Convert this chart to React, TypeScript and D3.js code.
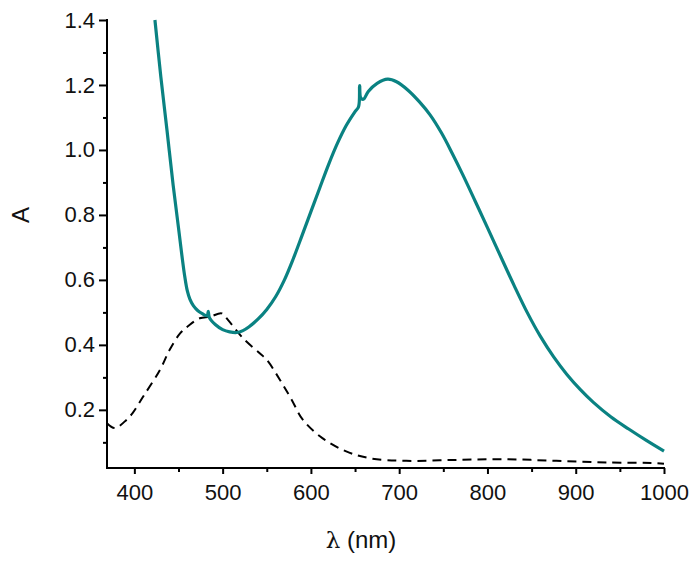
import React, { useEffect, useRef } from 'react';
import * as d3 from 'd3';

// teal sample (solid line)
const sampleWl = [423.3, 430, 437, 444, 450, 454, 457, 460, 463, 467, 472, 477, 482.5, 483.7, 485, 492, 500, 508, 516, 523, 530, 540, 550, 560, 570, 580, 590, 600, 610, 620, 630, 640, 650, 654, 655.2, 656.5, 659.5, 665, 675, 687, 697, 710, 723, 735, 748, 760, 772, 786, 800, 815, 830, 845, 860, 875, 890, 905, 920, 940, 960, 980, 1000];
const sampleA = [1.40, 1.225, 1.06, 0.89, 0.76, 0.672, 0.612, 0.566, 0.54, 0.52, 0.505, 0.496, 0.49, 0.503, 0.484, 0.462, 0.447, 0.44, 0.438, 0.444, 0.456, 0.479, 0.509, 0.548, 0.6, 0.665, 0.737, 0.81, 0.883, 0.955, 1.02, 1.075, 1.118, 1.133, 1.198, 1.16, 1.156, 1.18, 1.205, 1.218, 1.21, 1.184, 1.148, 1.108, 1.052, 0.99, 0.924, 0.843, 0.761, 0.672, 0.584, 0.5, 0.426, 0.363, 0.309, 0.263, 0.223, 0.178, 0.141, 0.106, 0.073];

// reference (dashed line)
const refWl = [369, 378, 391, 398, 410, 429, 440, 452, 461, 474, 486, 499, 506, 523, 542, 550, 565, 578, 591, 613, 640, 667, 708, 765, 822, 878, 935, 991, 1000];
const refA = [0.159, 0.144, 0.169, 0.19, 0.241, 0.323, 0.385, 0.436, 0.458, 0.482, 0.487, 0.497, 0.477, 0.421, 0.374, 0.354, 0.292, 0.232, 0.169, 0.113, 0.072, 0.051, 0.043, 0.046, 0.048, 0.043, 0.038, 0.036, 0.034];

const xMajor = [400, 500, 600, 700, 800, 900, 1000];
const xMinor = [450, 550, 650, 750, 850, 950];
const yMajor = [0.2, 0.4, 0.6, 0.8, 1.0, 1.2, 1.4];
const yMinor = [0.1, 0.3, 0.5, 0.7, 0.9, 1.1, 1.3];

const font = '"Liberation Sans", Arial, sans-serif';

export default function App() {
  const ref = useRef<SVGSVGElement>(null);

  useEffect(() => {
    const svg = d3.select(ref.current);
    svg.selectAll('*').remove();

    const x = d3.scaleLinear().domain([369, 1000]).range([107, 664]);
    const y = d3.scaleLinear().domain([0.021, 1.4]).range([468, 20]);

    const line = d3.line<[number, number]>()
      .x(d => x(d[0]))
      .y(d => y(d[1]))
      .curve(d3.curveCatmullRom.alpha(0.5));

    const refPts = refWl.map((w, i) => [w, refA[i]] as [number, number]);
    const samplePts = sampleWl.map((w, i) => [w, sampleA[i]] as [number, number]);

    svg.append('path')
      .attr('d', line(refPts))
      .attr('fill', 'none')
      .attr('stroke', '#000')
      .attr('stroke-width', 2)
      .attr('stroke-dasharray', '9,6');

    svg.append('path')
      .attr('d', line(samplePts))
      .attr('fill', 'none')
      .attr('stroke', '#0a8282')
      .attr('stroke-width', 3.2)
      .attr('stroke-linejoin', 'round');

    // x axis
    const gx = svg.append('g').attr('transform', 'translate(0,468)');
    gx.append('g').call(d3.axisBottom(x).tickValues(xMinor).tickSize(4).tickFormat(() => ''));
    gx.append('g').call(d3.axisBottom(x).tickValues(xMajor).tickSize(6).tickPadding(10).tickFormat(d3.format('d')));
    gx.selectAll('.domain').remove();
    gx.append('line').attr('x1', 106).attr('x2', 665).attr('stroke', '#000').attr('stroke-width', 2);

    // y axis
    const gy = svg.append('g').attr('transform', 'translate(107,0)');
    gy.append('g').call(d3.axisLeft(y).tickValues(yMinor).tickSize(4).tickFormat(() => ''));
    gy.append('g').call(d3.axisLeft(y).tickValues(yMajor).tickSize(8).tickPadding(4).tickFormat(d3.format('.1f')));
    gy.selectAll('.domain').remove();
    gy.append('line').attr('y1', 19).attr('y2', 469).attr('stroke', '#000').attr('stroke-width', 2);

    svg.selectAll('.tick line').attr('stroke', '#000').attr('stroke-width', 2);
    svg.selectAll('.tick text').attr('font-family', font).attr('font-size', 22).attr('fill', '#111');

    // axis titles
    const xt = svg.append('text')
      .attr('x', 361).attr('y', 548)
      .attr('text-anchor', 'middle')
      .attr('font-family', font).attr('font-size', 24).attr('fill', '#111');
    xt.append('tspan').attr('font-family', '"DejaVu Serif", serif').attr('font-size', 23).text('λ');
    xt.append('tspan').text(' (nm)');

    svg.append('text')
      .attr('transform', 'translate(29,215) rotate(-90)')
      .attr('text-anchor', 'middle')
      .attr('font-family', font).attr('font-size', 24).attr('fill', '#111')
      .text('A');
  }, []);

  return (
    <svg ref={ref} width={699} height={562}
      style={{ position: 'absolute', left: 0, top: 0, background: '#fff' }} />
  );
}
